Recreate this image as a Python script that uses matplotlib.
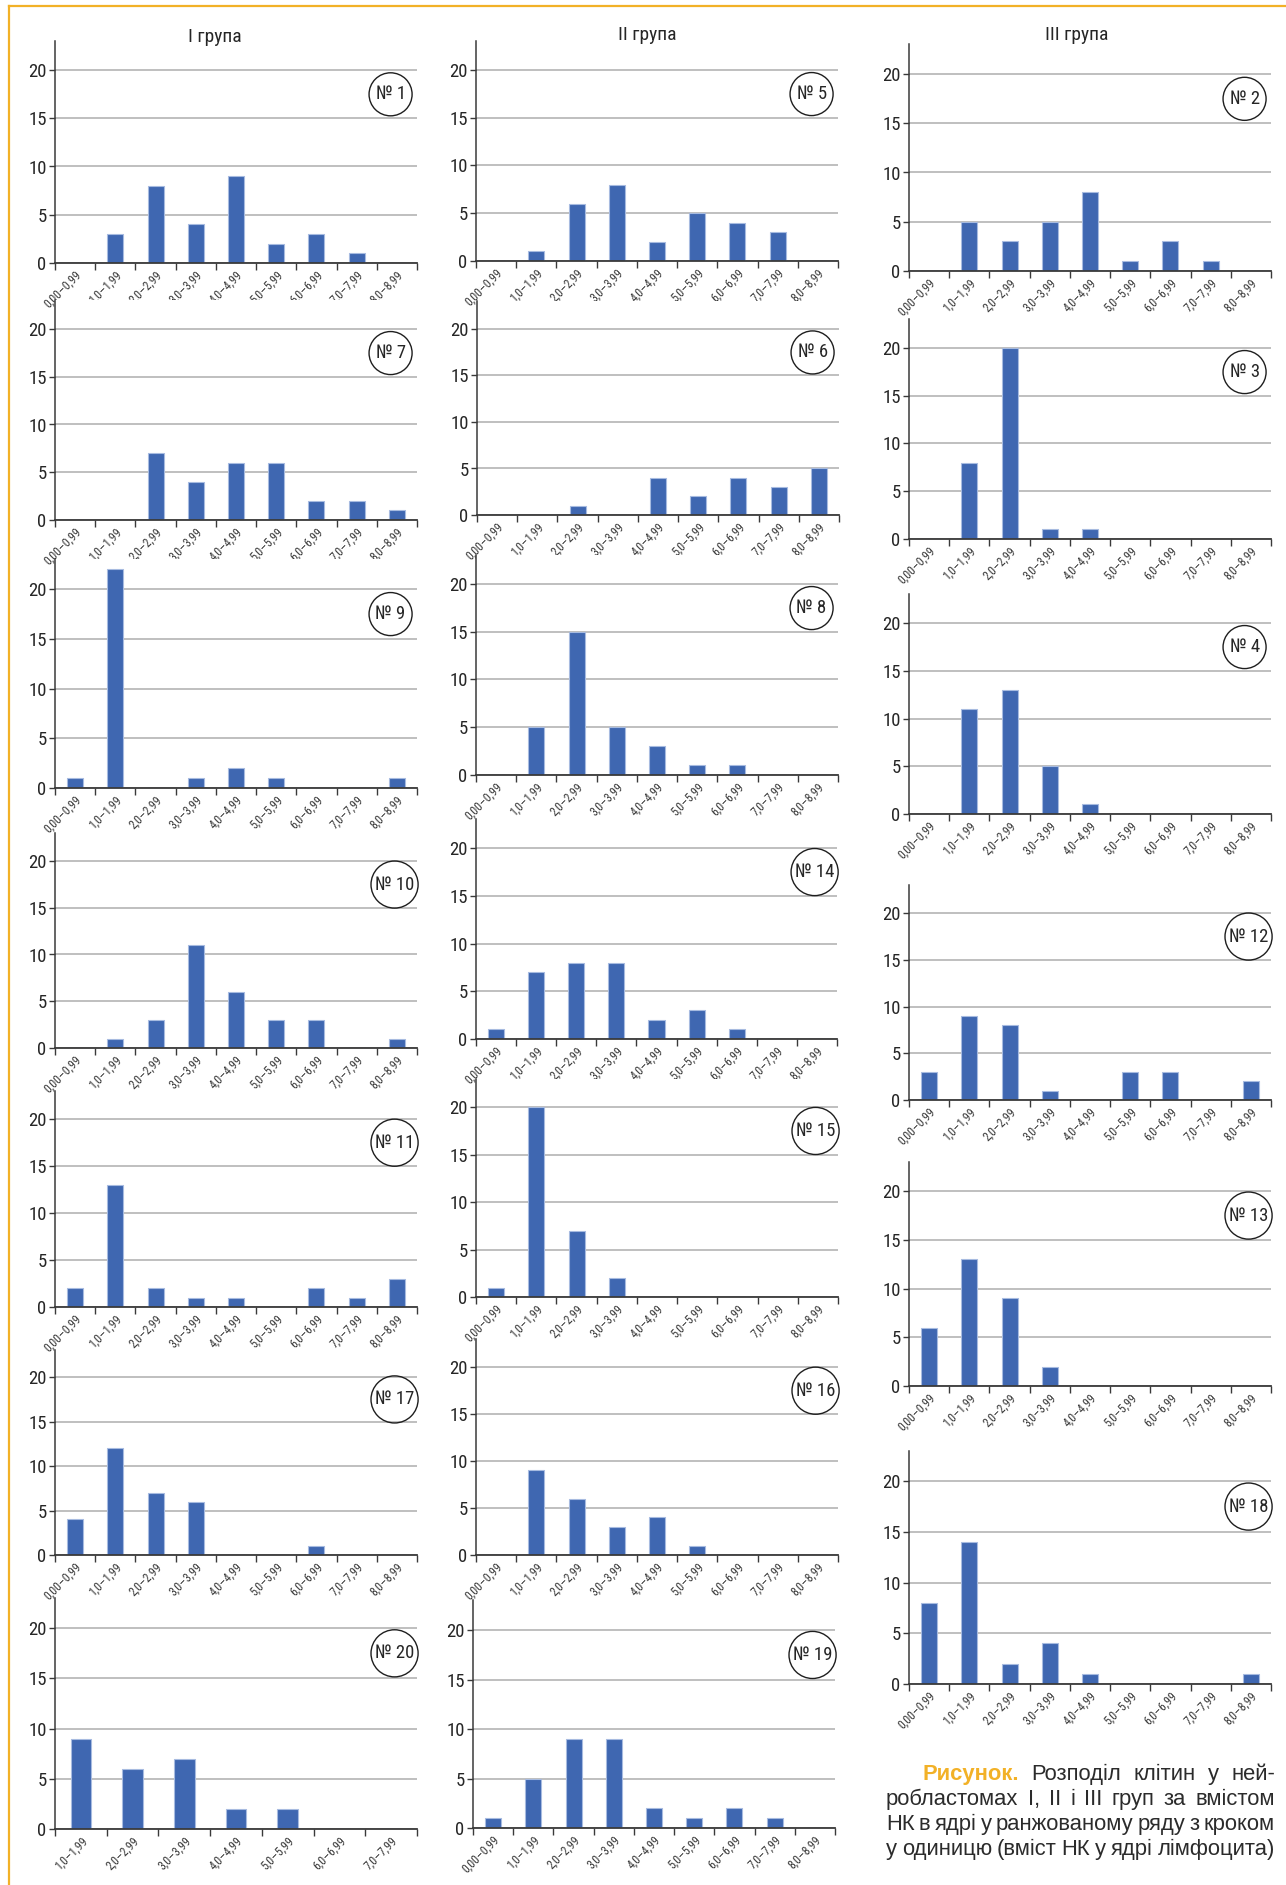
import numpy as np
import matplotlib
matplotlib.use("Agg")
import matplotlib.pyplot as plt
from matplotlib import font_manager
from matplotlib.lines import Line2D

# ---- data: cell counts per nucleic-acid content bin ----
BINS = ["0,00–0,99", "1,0–1,99", "2,0–2,99", "3,0–3,99", "4,0–4,99",
        "5,0–5,99", "6,0–6,99", "7,0–7,99", "8,0–8,99"]
BINS_20 = BINS[1:8]

cells_01 = [0, 3, 8, 4, 9, 2, 3, 1, 0]
cells_07 = [0, 0, 7, 4, 6, 6, 2, 2, 1]
cells_09 = [1, 22, 0, 1, 2, 1, 0, 0, 1]
cells_10 = [0, 1, 3, 11, 6, 3, 3, 0, 1]
cells_11 = [2, 13, 2, 1, 1, 0, 2, 1, 3]
cells_17 = [4, 12, 7, 6, 0, 0, 1, 0, 0]
cells_20 = [9, 6, 7, 2, 2, 0, 0]

cells_05 = [0, 1, 6, 8, 2, 5, 4, 3, 0]
cells_06 = [0, 0, 1, 0, 4, 2, 4, 3, 5]
cells_08 = [0, 5, 15, 5, 3, 1, 1, 0, 0]
cells_14 = [1, 7, 8, 8, 2, 3, 1, 0, 0]
cells_15 = [1, 20, 7, 2, 0, 0, 0, 0, 0]
cells_16 = [0, 9, 6, 3, 4, 1, 0, 0, 0]
cells_19 = [1, 5, 9, 9, 2, 1, 2, 1, 0]

cells_02 = [0, 5, 3, 5, 8, 1, 3, 1, 0]
cells_03 = [0, 8, 20, 1, 1, 0, 0, 0, 0]
cells_04 = [0, 11, 13, 5, 1, 0, 0, 0, 0]
cells_12 = [3, 9, 8, 1, 0, 3, 3, 0, 2]
cells_13 = [6, 13, 9, 2, 0, 0, 0, 0, 0]
cells_18 = [8, 14, 2, 4, 1, 0, 0, 0, 1]

GROUPS = ["І група", "ІІ група", "ІІІ група"]

# (tumour no., values, bin labels)
PANELS = [
    (1, cells_01, BINS), (7, cells_07, BINS), (9, cells_09, BINS),
    (10, cells_10, BINS), (11, cells_11, BINS), (17, cells_17, BINS),
    (20, cells_20, BINS_20),
    (5, cells_05, BINS), (6, cells_06, BINS), (8, cells_08, BINS),
    (14, cells_14, BINS), (15, cells_15, BINS), (16, cells_16, BINS),
    (19, cells_19, BINS),
    (2, cells_02, BINS), (3, cells_03, BINS), (4, cells_04, BINS),
    (12, cells_12, BINS), (13, cells_13, BINS), (18, cells_18, BINS),
]

# ---- layout in pixels: x left, x right, y of the 20 line, y of the 0 line ----
W, H = 1286, 1885
LAYOUT = {
    1: (55, 417, 70, 263), 7: (55, 417, 329, 520), 9: (55, 417, 589, 788),
    10: (55, 417, 861, 1048), 11: (55, 417, 1119, 1307),
    17: (55, 417, 1377, 1555), 20: (55, 417, 1628, 1829),
    5: (476, 838, 70, 261), 6: (477, 839, 329, 515), 8: (476, 838, 584, 775),
    14: (476, 837, 848, 1039), 15: (476, 838, 1107, 1297),
    16: (476, 838, 1367, 1555), 19: (473, 835, 1630, 1828),
    2: (909, 1271, 74, 271), 3: (909, 1271, 348, 539), 4: (909, 1271, 623, 814),
    12: (909, 1271, 913, 1100), 13: (909, 1271, 1191, 1386),
    18: (909, 1271, 1481, 1684),
}
TITLE_POS = [(215, 37), (647, 35), (1077, 35)]
YMAX = 23

BAR = "#3f67b1"
BAR_EDGE = "#a7bbe0"
GRID = "#adadad"
AXIS = "#3a3a3a"
TEXT = "#262626"
GOLD = "#f2b127"

available = {f.name for f in font_manager.fontManager.ttflist}


def pick(*names):
    found = [n for n in names if n in available]
    return found if found else ["DejaVu Sans"]


NARROW = pick("Liberation Sans Narrow", "Roboto Condensed", "Open Sans Condensed",
              "DejaVu Sans Condensed", "Liberation Sans")
REGULAR = pick("Liberation Sans", "Roboto", "DejaVu Sans")
narrow_kw = dict(family=NARROW, stretch="condensed")


def fx(x):
    return x / W


def fy(y):
    return 1 - y / H


fig = plt.figure(figsize=(W / 100, H / 100), dpi=100)

for num, vals, labels in PANELS:
    xl, xr, y20, y0 = LAYOUT[num]
    ytop = y0 - (y0 - y20) * YMAX / 20
    ax = fig.add_axes([fx(xl), fy(y0), (xr - xl) / W, (y0 - ytop) / H])
    n = len(vals)
    x = np.arange(n)
    ax.bar(x, vals, width=0.4, color=BAR, edgecolor=BAR_EDGE, linewidth=0.8, zorder=3)
    ax.set_xlim(-0.5, n - 0.5)
    ax.set_ylim(0, YMAX)

    ax.set_yticks([0, 5, 10, 15, 20])
    ax.yaxis.grid(True, color=GRID, linewidth=1.1)
    ax.set_axisbelow(True)
    for side in ("top", "right"):
        ax.spines[side].set_visible(False)
    ax.spines["left"].set_color(AXIS)
    ax.spines["left"].set_linewidth(1.1)
    ax.spines["bottom"].set_color(AXIS)
    ax.spines["bottom"].set_linewidth(1.3)
    ax.spines["bottom"].set_zorder(4)

    ax.set_xticks(x)
    ax.set_xticklabels(labels, rotation=45, ha="right", va="top",
                       rotation_mode="anchor", fontsize=8.6, color="#3a3a3a",
                       **narrow_kw)
    ax.set_xticks(np.arange(n + 1) - 0.5, minor=True)
    ax.tick_params(axis="x", which="major", length=0, pad=4)
    ax.tick_params(axis="x", which="minor", length=5, width=1, color=AXIS)
    ax.tick_params(axis="y", length=4, width=1, color=AXIS, pad=2,
                   labelsize=13.5, labelcolor=TEXT)
    for t in ax.get_yticklabels():
        t.set_family(NARROW)
        t.set_stretch("condensed")

    # tumour number in a circle, upper right
    two_digit = num >= 10
    cx = 0.927 + (0.011 if two_digit else 0)
    ax.scatter([cx], [0.76], s=1150 if two_digit else 960, transform=ax.transAxes,
               facecolors="none", edgecolors="#1e1e1e", linewidths=1.0,
               clip_on=False, zorder=6)
    ax.text(cx, 0.76, f"№ {num}", transform=ax.transAxes, ha="center",
            va="center", fontsize=13.5, color=TEXT, zorder=7, **narrow_kw)

for name, (tx, ty) in zip(GROUPS, TITLE_POS):
    fig.text(fx(tx), fy(ty), name, ha="center", va="center", fontsize=14,
             color=TEXT, **narrow_kw)

# gold frame on the top and left edges
fig.add_artist(Line2D([fx(9), 1.0], [fy(6), fy(6)], color=GOLD, lw=1.6))
fig.add_artist(Line2D([fx(9), fx(9)], [fy(6), 0.0], color=GOLD, lw=1.6))

# ---- justified caption ----
CAPTION = [
    (923, 1780, [("Рисунок.", True), ("Розподіл", False), ("клітин", False),
                 ("у", False), ("ней-", False)]),
    (886, 1805, [(w, False) for w in "робластомах І, ІІ і ІІІ груп за вмістом".split()]),
    (886, 1830, [(w, False) for w in "НК в ядрі у ранжованому ряду з кроком".split()]),
    (886, 1855, [(w, False) for w in "у одиницю (вміст НК у ядрі лімфоцита)".split()]),
]
CAP_RIGHT = 1275

renderer = fig.canvas.get_renderer()
for x0, base, words in CAPTION:
    texts = []
    for word, bold in words:
        t = fig.text(0, fy(base), word, ha="left", va="baseline", fontsize=15.8,
                     family=REGULAR, fontweight="bold" if bold else "normal",
                     color=GOLD if bold else "#2b2b2b")
        texts.append(t)
    widths = [t.get_window_extent(renderer).width for t in texts]
    gap = (CAP_RIGHT - x0 - sum(widths)) / (len(texts) - 1)
    pos = x0
    for t, w in zip(texts, widths):
        t.set_x(fx(pos))
        pos += w + gap

fig.savefig("out.png", dpi=100, facecolor="white")
